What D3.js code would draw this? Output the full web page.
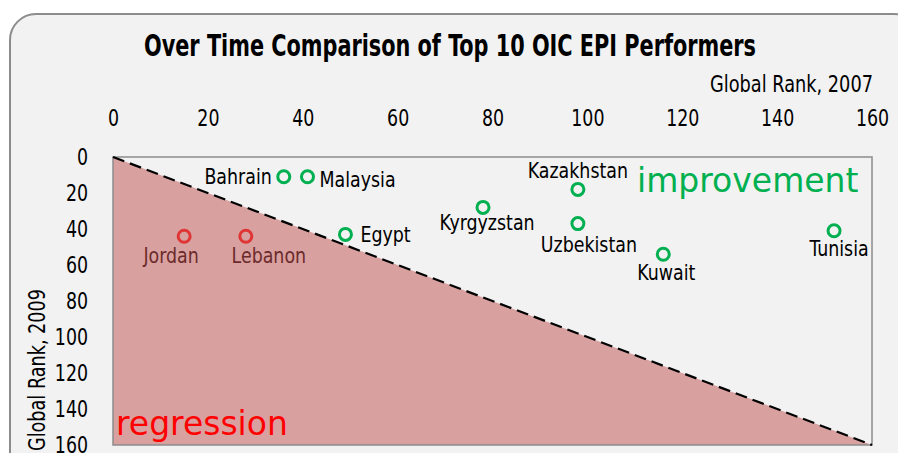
<!DOCTYPE html>
<html>
<head>
<meta charset="utf-8">
<script src="https://cdn.jsdelivr.net/npm/d3@7"></script>
<style>
  body { margin: 0; background: #fff; }
  svg { display: block; }
  .narrow { font-family: "DejaVu Sans Condensed", "Liberation Sans Narrow", sans-serif; }
</style>
</head>
<body>
<svg width="898" height="453"></svg>
<script>
// rangs EPI 2007 (x) et 2009 (y)
const countries = ["Bahrain", "Malaysia", "Egypt", "Jordan", "Lebanon", "Kyrgyzstan", "Kazakhstan", "Uzbekistan", "Kuwait", "Tunisia"];
const rank2007 = [36, 41, 49, 15, 28, 78, 98, 98, 116, 152];
const rank2009 = [11, 11, 43, 44, 44, 28, 18, 37, 54, 41];
const xTicks = [0, 20, 40, 60, 80, 100, 120, 140, 160];
const yTicks = [0, 20, 40, 60, 80, 100, 120, 140, 160];

const svg = d3.select("svg");

// resserre un texte horizontalement (police étroite du modèle)
function squeeze(sel, k) {
    sel.each(function () {
        const w = this.getComputedTextLength();
        d3.select(this).attr("textLength", w * k).attr("lengthAdjust", "spacingAndGlyphs");
    });
}

// fond de la carte
svg.append("rect")
    .attr("x", 10).attr("y", 14)
    .attr("width", 910).attr("height", 480)
    .attr("rx", 26)
    .attr("fill", "#f2f2f2")
    .attr("stroke", "#8c8c8c")
    .attr("stroke-width", 2);

const x = d3.scaleLinear().domain([0, 160]).range([113, 872]);
const y = d3.scaleLinear().domain([0, 160]).range([157, 445]);

// zone de régression (sous la diagonale)
svg.append("path")
    .attr("d", d3.line()([[x(0), y(0)], [x(160), y(160)], [x(0), y(160)]]) + "Z")
    .attr("fill", "#d9a0a0");

// cadre du graphique
svg.append("rect")
    .attr("x", x(0)).attr("y", y(0))
    .attr("width", x(160) - x(0)).attr("height", y(160) - y(0))
    .attr("fill", "none")
    .attr("stroke", "#8c8c8c")
    .attr("stroke-width", 1.5);

// diagonale pointillée
svg.append("line")
    .attr("x1", x(0)).attr("y1", y(0))
    .attr("x2", x(160)).attr("y2", y(160))
    .attr("stroke", "#000")
    .attr("stroke-width", 2.2)
    .attr("stroke-dasharray", "12,6");

// axes
const xAxis = svg.append("g")
    .attr("class", "narrow")
    .attr("transform", "translate(0,126)")
    .call(d3.axisTop(x).tickValues(xTicks).tickSize(0).tickPadding(0));
xAxis.select(".domain").remove();
xAxis.selectAll("text").attr("font-size", 23).attr("fill", "#000").attr("font-family", null).call(squeeze, 0.84);

const yAxis = svg.append("g")
    .attr("class", "narrow")
    .attr("transform", `translate(${x(0)},0)`)
    .call(d3.axisLeft(y).tickValues(yTicks).tickSize(0).tickPadding(25));
yAxis.select(".domain").remove();
yAxis.selectAll("text").attr("font-size", 23).attr("fill", "#000").attr("font-family", null).call(squeeze, 0.84);

// titres
svg.append("text")
    .attr("class", "narrow")
    .attr("x", 450).attr("y", 56)
    .attr("text-anchor", "middle")
    .attr("font-size", 30)
    .attr("font-weight", "bold")
    .attr("textLength", 612)
    .attr("lengthAdjust", "spacingAndGlyphs")
    .text("Over Time Comparison of Top 10 OIC EPI Performers");

svg.append("text")
    .attr("class", "narrow")
    .attr("x", 873).attr("y", 92)
    .attr("text-anchor", "end")
    .attr("font-size", 23)
    .attr("textLength", 163)
    .attr("lengthAdjust", "spacingAndGlyphs")
    .text("Global Rank, 2007");

svg.append("text")
    .attr("class", "narrow")
    .attr("transform", "translate(45,289) rotate(-90)")
    .attr("text-anchor", "end")
    .attr("font-size", 23)
    .attr("textLength", 162)
    .attr("lengthAdjust", "spacingAndGlyphs")
    .text("Global Rank, 2009");

// textes des zones
svg.append("text")
    .attr("x", 637).attr("y", 192)
    .attr("font-family", "DejaVu Sans, sans-serif")
    .attr("font-size", 33)
    .attr("fill", "#00b050")
    .text("improvement");

svg.append("text")
    .attr("x", 116).attr("y", 435)
    .attr("font-family", "DejaVu Sans, sans-serif")
    .attr("font-size", 33)
    .attr("fill", "#ff0000")
    .text("regression");

// points
const pts = countries.map((c, i) => ({ name: c, rx: rank2007[i], ry: rank2009[i], worse: rank2009[i] > rank2007[i] }));

svg.selectAll("circle.pt")
    .data(pts)
    .enter()
    .append("circle")
    .attr("class", "pt")
    .attr("cx", d => x(d.rx))
    .attr("cy", d => y(d.ry))
    .attr("r", 6)
    .attr("fill", "none")
    .attr("stroke", d => d.worse ? "#e03535" : "#00b050")
    .attr("stroke-width", 3);

// position des étiquettes : [dx, dy, ancrage]
const labelPos = {
    Bahrain: [-12, 7, "end"],
    Malaysia: [12, 10, "start"],
    Egypt: [15, 8, "start"],
    Jordan: [-13, 27, "middle"],
    Lebanon: [23, 27, "middle"],
    Kyrgyzstan: [4, 23, "middle"],
    Kazakhstan: [0, -11, "middle"],
    Uzbekistan: [11, 28, "middle"],
    Kuwait: [3, 26, "middle"],
    Tunisia: [5, 25, "middle"]
};

svg.selectAll("text.lbl")
    .data(pts)
    .enter()
    .append("text")
    .attr("class", "lbl narrow")
    .attr("x", d => x(d.rx) + labelPos[d.name][0])
    .attr("y", d => y(d.ry) + labelPos[d.name][1])
    .attr("text-anchor", d => labelPos[d.name][2])
    .attr("font-size", 22)
    .attr("fill", d => d.worse ? "#6b2b2b" : "#000")
    .text(d => d.name)
    .call(squeeze, 0.88);
</script>
</body>
</html>
